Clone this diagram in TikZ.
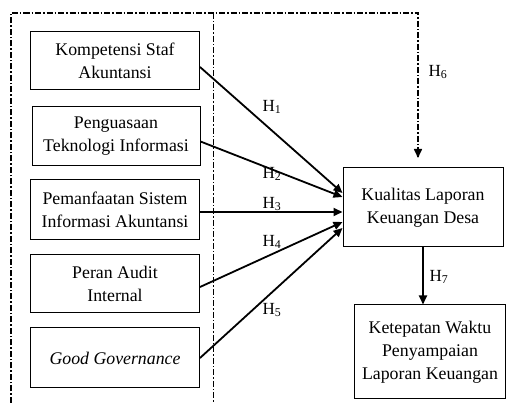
\documentclass[tikz,border=0pt]{standalone}
\usepackage{fontspec}
\setmainfont{Liberation Serif}
\usetikzlibrary{arrows.meta}
\begin{document}
\begin{tikzpicture}[x=1pt,y=-1pt,
  box/.style={draw,line width=1pt,align=center,inner sep=0pt,font=\fontsize{17.8}{23}\selectfont},
  arr/.style={line width=1.8pt,-{Triangle[length=9pt,width=8pt]}},
  dd/.style={line width=1.3pt,dash pattern=on 6pt off 2pt on 1.5pt off 2pt},
  lab/.style={font=\fontsize{17}{18}\selectfont,inner sep=0pt}]
\useasboundingbox (0,0) rectangle (507,403);
\node[box,minimum width=169pt,minimum height=58pt] (b1) at (115,61) {Kompetensi Staf\\Akuntansi};
\node[box,minimum width=168pt,minimum height=59pt] (b2) at (116,136.5) {Penguasaan\\Teknologi Informasi};
\node[box,minimum width=169pt,minimum height=60pt] (b3) at (115,210) {Pemanfaatan Sistem\\Informasi Akuntansi};
\node[box,minimum width=169pt,minimum height=58pt] (b4) at (115,284) {Peran Audit\\Internal};
\node[box,minimum width=169pt,minimum height=60pt] (b5) at (115,358) {\itshape Good Governance};
\node[box,minimum width=160pt,minimum height=79pt] (k) at (423,207.5) {Kualitas Laporan\\Keuangan Desa};
\node[box,minimum width=151pt,minimum height=94pt] (t) at (430,352) {Ketepatan Waktu\\Penyampaian\\Laporan Keuangan};
\coordinate (dl) at (11,403);
\coordinate (dtl) at (11,13);
\coordinate (dtr) at (418,13);
\coordinate (dend) at (418,158);
\coordinate (vt) at (213,13);
\coordinate (vb) at (213,403);
\draw[dd] (dl) -- (dtl) -- (dtr) -- (dend);
\draw[line width=1.6pt,-{Triangle[length=9pt,width=8pt]}] ([yshift=1pt]dend) -- (dend);
\draw[dd,line width=1pt] (vt) -- (vb);
\draw[arr] ([yshift=-6pt]b1.east) -- ([yshift=14.5pt]k.west);
\draw[arr] ([yshift=-5pt]b2.east) -- ([yshift=10.5pt]k.west);
\draw[arr] ([yshift=-2pt]b3.east) -- ([yshift=-2pt]b3.east -| k.west);
\draw[arr] ([yshift=-3pt]b4.east) -- ([yshift=-14.5pt]k.west);
\draw[arr] (b5.east) -- ([yshift=-20.5pt]k.west);
\draw[arr] (k.south) -- (k.south |- t.north);
\node[lab] (h1) at (272,107) {H\textsubscript{1}};
\node[lab] (h2) at (272,174) {H\textsubscript{2}};
\node[lab] (h3) at (272,204) {H\textsubscript{3}};
\node[lab] (h4) at (272,242) {H\textsubscript{4}};
\node[lab] (h5) at (272,310) {H\textsubscript{5}};
\node[lab] (h6) at (438,72) {H\textsubscript{6}};
\node[lab] (h7) at (439,277) {H\textsubscript{7}};
\end{tikzpicture}
\end{document}
